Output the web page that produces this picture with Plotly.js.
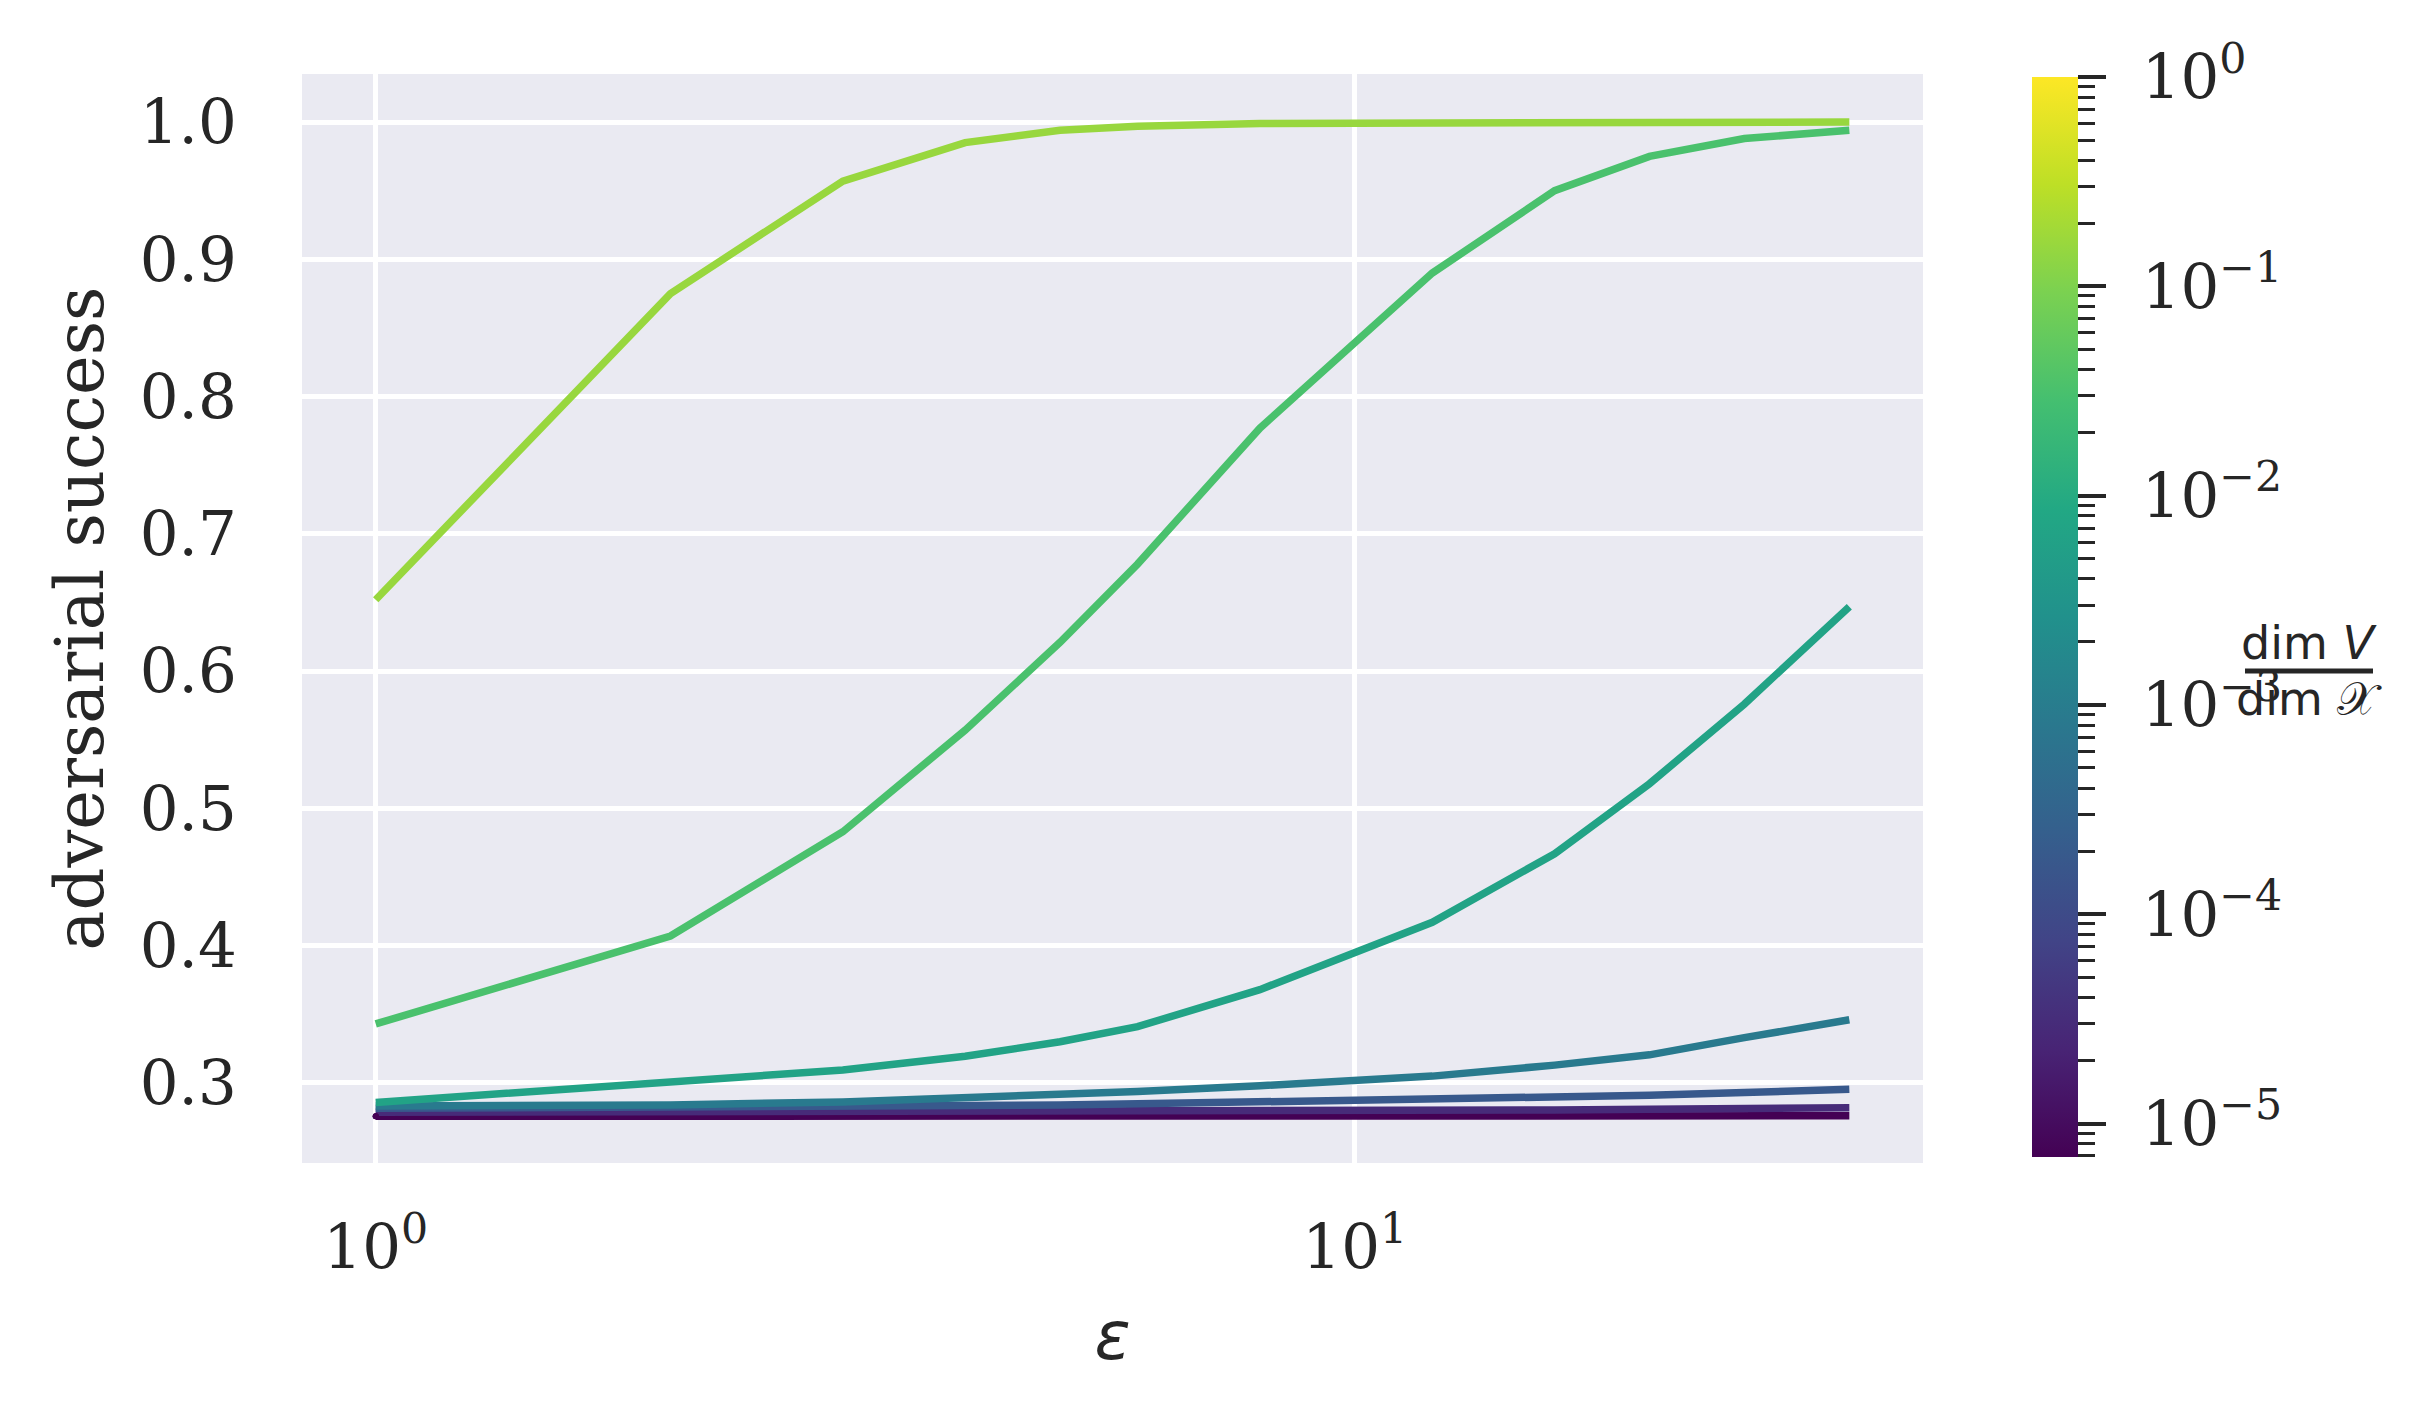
<!DOCTYPE html>
<html>
<head>
<meta charset="utf-8">
<script src="https://cdn.plot.ly/plotly-3.0.1.min.js"></script>
<style>
  html, body { margin: 0; padding: 0; background: #fff; }
  #plot { width: 2426px; height: 1427px; }
</style>
</head>
<body>
<div id="plot"></div>
<script>
// epsilon values (x), log axis
var eps = [1, 2, 3, 4, 5, 6, 8, 12, 16, 20, 25, 32];

// dim V / dim X for each curve, smallest first
var dimRatio = [6.9e-6, 2.9e-5, 1.9e-4, 9.0e-4, 6.8e-3, 3.2e-2, 0.158];

// adversarial success per curve, same order as dimRatio
var succ0 = [0.2757, 0.2757, 0.2757, 0.2757, 0.2757, 0.2757, 0.2758, 0.2758, 0.2759, 0.2759, 0.2760, 0.2761];
var succ1 = [0.2787, 0.2788, 0.2789, 0.2790, 0.2791, 0.2792, 0.2794, 0.2798, 0.2803, 0.2808, 0.2813, 0.2820];
var succ2 = [0.2815, 0.2820, 0.2828, 0.2835, 0.2840, 0.2848, 0.2860, 0.2878, 0.2895, 0.2910, 0.2930, 0.2955];
var succ3 = [0.2833, 0.2840, 0.2862, 0.2888, 0.2912, 0.2937, 0.2980, 0.3050, 0.3130, 0.3205, 0.3330, 0.3460];
var succ4 = [0.2858, 0.3000, 0.3095, 0.3195, 0.3300, 0.3410, 0.3680, 0.4170, 0.4670, 0.5180, 0.5760, 0.6470];
var succ5 = [0.343, 0.407, 0.483, 0.557, 0.621, 0.678, 0.777, 0.890, 0.950, 0.975, 0.988, 0.994];
var succ6 = [0.652, 0.875, 0.957, 0.985, 0.994, 0.997, 0.999, 0.9995, 1.0, 1.0, 1.0, 1.0];
var allSucc = [succ0, succ1, succ2, succ3, succ4, succ5, succ6];

// colorbar range (log10 of ratio)
var cmin = -5.16, cmax = 0;
var cbTicks = [-5, -4, -3, -2, -1, 0];
var cbText = ['10<sup>−5</sup>', '10<sup>−4</sup>', '10<sup>−3</sup>', '10<sup>−2</sup>', '10<sup>−1</sup>', '10<sup>0</sup>'];

// matplotlib viridis, 11 stops
var viridis = ['#440154', '#482475', '#414487', '#355f8d', '#2a788e', '#21918c',
               '#22a884', '#44bf70', '#7ad151', '#bddf26', '#fde725'];

function hex2rgb(h) {
  return [parseInt(h.substr(1, 2), 16), parseInt(h.substr(3, 2), 16), parseInt(h.substr(5, 2), 16)];
}
function viridisAt(p) {
  p = Math.max(0, Math.min(1, p));
  var f = p * 10, i = Math.min(9, Math.floor(f)), t = f - i;
  var a = hex2rgb(viridis[i]), b = hex2rgb(viridis[i + 1]);
  var c = a.map(function (v, k) { return Math.round(v + (b[k] - v) * t); });
  return 'rgb(' + c.join(',') + ')';
}
var cscale = viridis.map(function (c, i) { return [i / 10, c]; });

var txt = '#262626';
var serif = 'DejaVu Serif, serif';
var sans = 'DejaVu Sans, sans-serif';

var data = [];
allSucc.forEach(function (ys, i) {
  var p = (Math.log10(dimRatio[i]) - cmin) / (cmax - cmin);
  data.push({
    x: eps, y: ys, type: 'scatter', mode: 'lines',
    line: {color: viridisAt(p), width: 7.5},
    showlegend: false, hoverinfo: 'skip'
  });
});

// minor tick positions for the colorbar
var minorTicks = [];
for (var n = -6; n < 0; n++) {
  for (var k = 2; k <= 9; k++) {
    var v = Math.log10(k * Math.pow(10, n));
    if (v >= cmin && v <= cmax) minorTicks.push(v);
  }
}

var cbBase = {
  thickness: 46, thicknessmode: 'pixels',
  len: 1080, lenmode: 'pixels',
  x: (2032 - 302) / 1621, xanchor: 'left', xpad: 0,
  y: (1163 - 77) / 1089, yanchor: 'top', ypad: 0,
  outlinewidth: 0, ticks: 'outside', tickcolor: txt,
  tickmode: 'array'
};

function cbTrace(cb) {
  return {
    x: [eps[0]], y: [succ0[0]], type: 'scatter', mode: 'markers',
    marker: {size: 0, color: [cmin], cmin: cmin, cmax: cmax, colorscale: cscale, showscale: true,
      colorbar: Object.assign({}, cbBase, cb)},
    showlegend: false, hoverinfo: 'skip'
  };
}
// minor ticks
data.push(cbTrace({tickvals: minorTicks, ticklen: 17, tickwidth: 3, showticklabels: false}));
// major ticks
data.push(cbTrace({tickvals: cbTicks, ticklen: 28, tickwidth: 4, showticklabels: false}));
// labels (ticks hidden, used as spacer)
data.push(cbTrace({tickvals: cbTicks, ticktext: cbText, ticklen: 52, tickwidth: 1,
  tickcolor: 'rgba(0,0,0,0)', tickfont: {family: serif, size: 61, color: txt}}));

var layout = {
  width: 2426, height: 1427,
  margin: {l: 302, r: 503, t: 74, b: 264},
  paper_bgcolor: '#ffffff', plot_bgcolor: '#eaeaf2',
  font: {family: serif, size: 61, color: txt},
  xaxis: {
    type: 'log', range: [-0.0753, 1.5804],
    tickmode: 'array', tickvals: [1, 10], ticktext: ['10<sup>0</sup>', '10<sup>1</sup>'],
    showgrid: true, gridcolor: '#ffffff', gridwidth: 5, zeroline: false, showline: false,
    ticks: 'outside', ticklen: 31, tickcolor: 'rgba(0,0,0,0)',
    tickfont: {family: serif, size: 61, color: txt},
    title: {text: '<i>ε</i>', font: {family: sans, size: 67, color: txt}, standoff: 30}
  },
  yaxis: {
    range: [0.2417, 1.035], dtick: 0.1, tick0: 0, tickformat: '.1f',
    showgrid: true, gridcolor: '#ffffff', gridwidth: 5, zeroline: false, showline: false,
    ticks: 'outside', ticklen: 52, tickcolor: 'rgba(0,0,0,0)',
    tickfont: {family: serif, size: 61, color: txt},
    title: {text: 'adversarial success', font: {family: serif, size: 67, color: txt}, standoff: 14}
  },
  annotations: [
    {xref: 'paper', yref: 'paper', x: (2309 - 302) / 1621, y: (1163 - 643) / 1089,
     text: 'dim <i>V</i>', showarrow: false, xanchor: 'center', yanchor: 'middle',
     font: {family: sans, size: 46, color: txt}},
    {xref: 'paper', yref: 'paper', x: (2309 - 302) / 1621, y: (1163 - 699) / 1089,
     text: 'dim 𝒳', showarrow: false, xanchor: 'center', yanchor: 'middle',
     font: {family: sans, size: 46, color: txt}}
  ],
  shapes: [
    {type: 'line', xref: 'paper', yref: 'paper',
     x0: (2245 - 302) / 1621, x1: (2373 - 302) / 1621,
     y0: (1163 - 671) / 1089, y1: (1163 - 671) / 1089,
     line: {color: txt, width: 5}}
  ]
};

Plotly.newPlot('plot', data, layout, {staticPlot: true});
</script>
</body>
</html>
